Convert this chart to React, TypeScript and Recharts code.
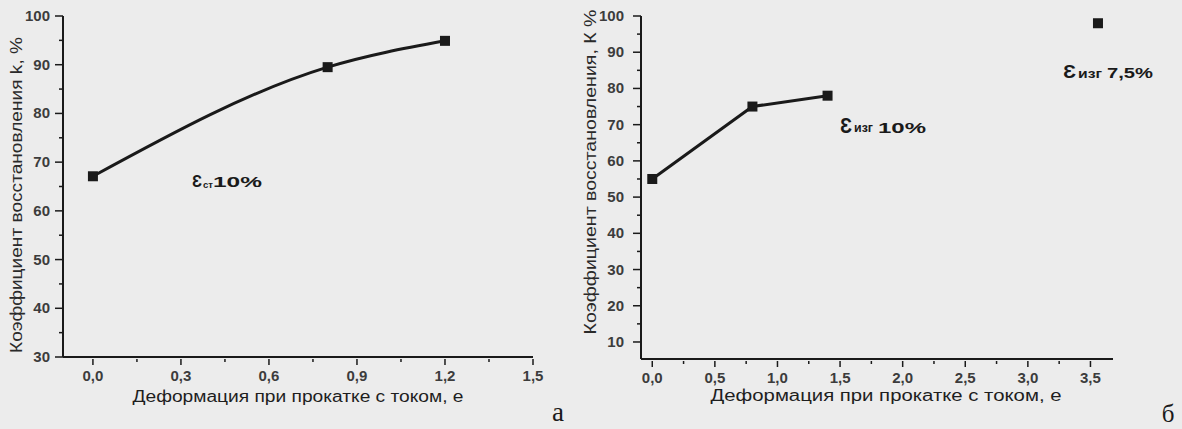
import React from "react";
// Recovery coefficient vs. rolling-with-current strain, two panels (а, б)

import { ComposedChart, Line, XAxis, YAxis } from "recharts";

// panel а
const strainA = [0, 0.8, 1.2];
const recoveryA = [67.1, 89.5, 94.9];
const xMajorA = [0, 0.3, 0.6, 0.9, 1.2, 1.5];
const xMinorA = [0.15, 0.45, 0.75, 1.05, 1.35];
const yMajorA = [30, 40, 50, 60, 70, 80, 90, 100];
const yMinorA = [35, 45, 55, 65, 75, 85, 95];

// panel б
const strainB = [0, 0.8, 1.4];
const recoveryB = [55, 75, 78];
const strainB2 = [3.56];
const recoveryB2 = [98];
const xMajorB = [0, 0.5, 1, 1.5, 2, 2.5, 3, 3.5];
const xMinorB = [0.25, 0.75, 1.25, 1.75, 2.25, 2.75, 3.25];
const yMajorB = [10, 20, 30, 40, 50, 60, 70, 80, 90, 100];
const yMinorB = [15, 25, 35, 45, 55, 65, 75, 85, 95];

const INK = "#1a1a1a";
const TICK_TEXT = "#3c3c3c";
const FONT = "'Liberation Sans', Arial, sans-serif";

const rows = (xs: number[], ys: number[]) => xs.map((x, i) => ({ x, y: ys[i] }));
const isIn = (list: number[], v: number) => list.some((m) => Math.abs(m - v) < 1e-6);
const fmt = (v: number) => v.toFixed(1).replace(".", ",");

function SquareDot(props: any) {
  const { cx, cy, index } = props;
  if (cx == null || cy == null) return null;
  return <rect key={index} x={cx - 5} y={cy - 5} width={10} height={10} fill={INK} />;
}

function makeXTick(majors: number[]) {
  return (props: any) => {
    const { x, y, payload } = props;
    const major = isIn(majors, payload.value);
    return (
      <g>
        <line x1={x} x2={x} y1={y + 2} y2={y + (major ? 8 : 5)} stroke={INK} strokeWidth={1.5} />
        {major && (
          <text x={x} y={y + 24} textAnchor="middle" fontSize={15} fontWeight="bold" fill={TICK_TEXT} fontFamily={FONT}>
            {fmt(payload.value)}
          </text>
        )}
      </g>
    );
  };
}

function makeYTick(majors: number[], gap: number) {
  return (props: any) => {
    const { x, y, payload } = props;
    const major = isIn(majors, payload.value);
    return (
      <g>
        <line x1={x - (major ? 8 : 4)} x2={x} y1={y} y2={y} stroke={INK} strokeWidth={1.5} />
        {major && (
          <text x={x - gap} y={y + 5} textAnchor="end" fontSize={15} fontWeight="bold" fill={TICK_TEXT} fontFamily={FONT}>
            {payload.value}
          </text>
        )}
      </g>
    );
  };
}

const axisLine = { stroke: INK, strokeWidth: 2 };

export default function App() {
  const ticksXA = [...xMajorA, ...xMinorA].sort((a, b) => a - b);
  const ticksYA = [...yMajorA, ...yMinorA].sort((a, b) => a - b);
  const ticksXB = [...xMajorB, ...xMinorB].sort((a, b) => a - b);
  const ticksYB = [...yMajorB, ...yMinorB].sort((a, b) => a - b);

  return (
    <div style={{ position: "absolute", left: 0, top: 0, width: 1182, height: 429, background: "#ececec", overflow: "hidden" }}>
      <div style={{ position: "absolute", left: 0, top: 0 }}>
        <ComposedChart width={600} height={429} margin={{ top: 16, right: 67, bottom: 42, left: 0 }}>
          <XAxis
            type="number"
            dataKey="x"
            domain={[-0.102, 1.5]}
            ticks={ticksXA}
            interval={0}
            height={30}
            tickLine={false}
            tickSize={0}
            tickMargin={0}
            axisLine={axisLine}
            tick={makeXTick(xMajorA)}
            allowDataOverflow
          />
          <YAxis
            type="number"
            domain={[30, 100]}
            ticks={ticksYA}
            interval={0}
            width={63}
            tickLine={false}
            tickSize={0}
            tickMargin={0}
            axisLine={axisLine}
            tick={makeYTick(yMajorA, 13)}
            allowDataOverflow
          />
          <Line
            data={rows(strainA, recoveryA)}
            dataKey="y"
            type="monotone"
            stroke={INK}
            strokeWidth={3}
            dot={SquareDot}
            activeDot={false}
            isAnimationActive={false}
          />
        </ComposedChart>
      </div>

      <div style={{ position: "absolute", left: 590, top: 0 }}>
        <ComposedChart width={592} height={429} margin={{ top: 16, right: 69, bottom: 40, left: 0 }}>
          <XAxis
            type="number"
            dataKey="x"
            domain={[-0.09, 3.68]}
            ticks={ticksXB}
            interval={0}
            height={30}
            tickLine={false}
            tickSize={0}
            tickMargin={0}
            axisLine={axisLine}
            tick={makeXTick(xMajorB)}
            allowDataOverflow
          />
          <YAxis
            type="number"
            domain={[5.3, 100]}
            ticks={ticksYB}
            interval={0}
            width={51}
            tickLine={false}
            tickSize={0}
            tickMargin={0}
            axisLine={axisLine}
            tick={makeYTick(yMajorB, 17)}
            allowDataOverflow
          />
          <Line
            data={rows(strainB, recoveryB)}
            dataKey="y"
            type="linear"
            stroke={INK}
            strokeWidth={3}
            dot={SquareDot}
            activeDot={false}
            isAnimationActive={false}
          />
          <Line
            data={rows(strainB2, recoveryB2)}
            dataKey="y"
            type="linear"
            stroke="none"
            dot={SquareDot}
            activeDot={false}
            isAnimationActive={false}
          />
        </ComposedChart>
      </div>

      <svg width={1182} height={429} style={{ position: "absolute", left: 0, top: 0, pointerEvents: "none" }} fontFamily={FONT}>
        {/* axis titles */}
        <text transform="translate(22,195) rotate(-90)" textAnchor="middle" fontSize={16} fill="#2a2a2a" textLength={316} lengthAdjust="spacingAndGlyphs">
          Коэффициент восстановления k, %
        </text>
        <text transform="translate(596,172) rotate(-90)" textAnchor="middle" fontSize={16} fill="#2a2a2a" textLength={325} lengthAdjust="spacingAndGlyphs">
          Коэффициент восстановления, К %
        </text>
        <text x={298} y={402} textAnchor="middle" fontSize={16} fill="#1e1e1e" textLength={331} lengthAdjust="spacingAndGlyphs">
          Деформация при прокатке с током, е
        </text>
        <text x={886} y={401} textAnchor="middle" fontSize={16} fill="#1e1e1e" textLength={351} lengthAdjust="spacingAndGlyphs">
          Деформация при прокатке с током, е
        </text>

        {/* curve annotations */}
        <text x={192} y={187} fontSize={16} fontWeight="bold" fill={INK} textLength={10} lengthAdjust="spacingAndGlyphs">Ɛ</text>
        <text x={203} y={188} fontSize={9} fontWeight="bold" fill={INK} textLength={10} lengthAdjust="spacingAndGlyphs">ст</text>
        <text x={213} y={187} fontSize={14} fontWeight="bold" fill={INK} textLength={49} lengthAdjust="spacingAndGlyphs">10%</text>

        <text x={840} y={133} fontSize={22} fontWeight="bold" fill={INK} textLength={12} lengthAdjust="spacingAndGlyphs">Ɛ</text>
        <text x={854} y={132} fontSize={13} fontWeight="bold" fill={INK} textLength={19} lengthAdjust="spacingAndGlyphs">изг</text>
        <text x={878} y={133} fontSize={15} fontWeight="bold" fill={INK} textLength={48} lengthAdjust="spacingAndGlyphs">10%</text>

        <text x={1063} y={78} fontSize={18} fontWeight="bold" fill={INK} textLength={13} lengthAdjust="spacingAndGlyphs">Ɛ</text>
        <text x={1078} y={78} fontSize={12} fontWeight="bold" fill={INK} textLength={24} lengthAdjust="spacingAndGlyphs">изг</text>
        <text x={1107} y={78} fontSize={15} fontWeight="bold" fill={INK} textLength={46} lengthAdjust="spacingAndGlyphs">7,5%</text>

        {/* panel letters */}
        <text x={558} y={421} textAnchor="middle" fontSize={27} fill="#1a1a1a" fontFamily="'Liberation Serif', 'Times New Roman', serif">а</text>
        <text x={1168} y={422} textAnchor="middle" fontSize={25} fill="#1a1a1a" fontFamily="'Liberation Serif', 'Times New Roman', serif">б</text>
      </svg>
    </div>
  );
}
